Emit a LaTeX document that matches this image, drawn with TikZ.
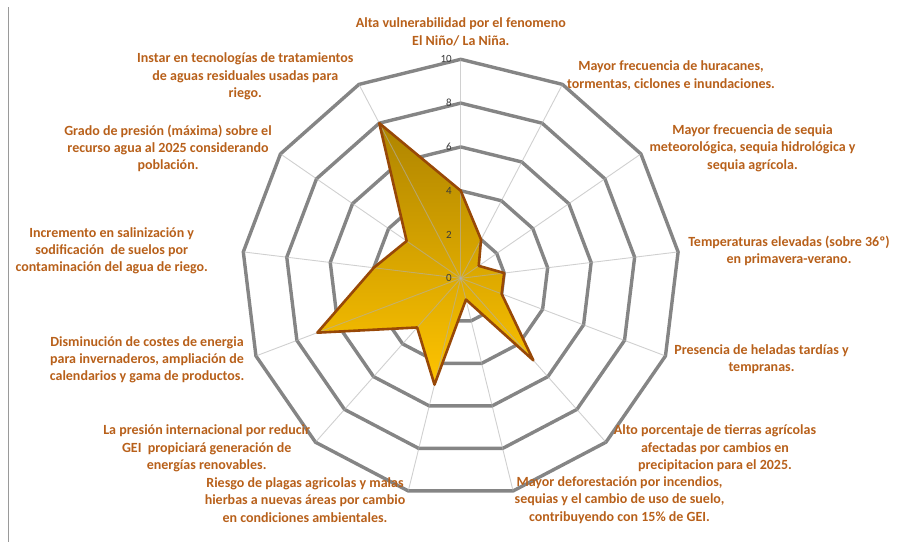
\documentclass[tikz,border=0pt]{standalone}
\usepackage{fontspec}
\setmainfont{Carlito}
\usepackage{xcolor}
\usetikzlibrary{calc}
\definecolor{ringgray}{HTML}{858585}
\definecolor{spokegray}{HTML}{B0B0B0}
\definecolor{framegray}{HTML}{9A9A9A}
\definecolor{labeltext}{HTML}{B8601A}
\definecolor{seriesedge}{HTML}{984807}
\definecolor{goldtop}{HTML}{AE8400}
\definecolor{goldbottom}{HTML}{FFC400}
\definecolor{ticktext}{HTML}{3A3A3A}
\tikzset{
    % Category label style
    axis label/.style={
        align=center,
        font=\fontsize{14}{17.4}\selectfont\bfseries,
        text=labeltext,
        inner sep=0pt
    },
    % Tick label style
    tick label/.style={
        anchor=east,
        font=\fontsize{11}{12}\selectfont,
        text=ticktext,
        inner sep=0pt
    },
    % Grid styles
    ring/.style={
        draw=ringgray,
        line width=3.4pt,
        line join=round
    },
    spoke/.style={
        draw=spokegray,
        line width=0.9pt,
        opacity=0.6
    },
    % Series styles
    series fill/.style={
        top color=goldtop,
        bottom color=goldbottom
    },
    series edge/.style={
        draw=seriesedge,
        line width=2.6pt,
        line join=round
    }
}

\begin{document}
\begin{tikzpicture}[x=1pt, y=-1pt]

        % Canvas
        \useasboundingbox (0,0) rectangle (899,542);
        \draw[framegray, line width=1.2pt] (8.5,7) -- (8.5,542);

        % Chart centre
        \coordinate (c) at (460.7,278.3);

        \begin{scope}[shift={(c)}]
            % Rings at 2, 4, ..., 10
            \foreach \r in {2,4,...,10} {
                \pgfmathsetmacro{\rr}{\r*21.9}
                \draw[ring] (-90:\rr) \foreach \k in {1,...,12} { -- (-90+\k*360/13:\rr) } -- cycle;
            }

            % Series points
            \foreach \v [count=\k from 0] in {4,2,1,2,2,5,1,5,3,7,4,3,8} {
                \pgfmathsetmacro{\rr}{\v*21.9}
                \coordinate (p\k) at (-90+\k*360/13:\rr);
            }
            \path[series fill] (p0) \foreach \k in {1,...,12} { -- (p\k) } -- cycle;

            % Spokes
            \foreach \k in {0,...,12} {
                \draw[spoke] (0,0) -- (-90+\k*360/13:219);
            }

            \draw[series edge] (p0) \foreach \k in {1,...,12} { -- (p\k) } -- cycle;
        \end{scope}

        % Tick labels
        \foreach \t in {0,2,...,10} {
            \node[tick label] (tick\t) at (452,278.3-\t*21.9) {\t};
        }

        % Category labels, clockwise from the top
        \node[axis label] (vulnerab) at (460.8,32) {Alta vulnerabilidad por el fenomeno\\El Niño/ La Niña.};
        \node[axis label] (huracan) at (671,75.5) {Mayor frecuencia de huracanes,\\tormentas, ciclones e inundaciones.};
        \node[axis label] (sequia) at (752.5,148) {Mayor frecuencia de sequia\\meteorológica, sequia hidrológica y\\sequia agrícola.};
        \node[axis label] (temper) at (789,251) {Temperaturas elevadas (sobre 36º)\\en primavera-verano.};
        \node[axis label] (heladas) at (761.5,359) {Presencia de heladas tardías y\\tempranas.};
        \node[axis label] (tierras) at (715,448.3) {Alto porcentaje de tierras agrícolas\\afectadas por cambios en\\precipitacion para el 2025.};
        \node[axis label] (deforest) at (619.5,500) {Mayor deforestación por incendios,\\sequias y el cambio de uso de suelo,\\contribuyendo con 15\% de GEI.};
        \node[axis label] (plagas) at (305,500) {Riesgo de plagas agricolas y malas\\hierbas a nuevas áreas por cambio\\en condiciones ambientales.};
        \node[axis label] (presion) at (206.7,448.3) {La presión internacional por reducir\\GEI\ \ propiciará generación de\\energías renovables.};
        \node[axis label] (costes) at (147,359.7) {Disminución de costes de energia\\para invernaderos, ampliación de\\calendarios y gama de productos.};
        \node[axis label] (salin) at (111.7,250.8) {Incremento en salinización y\\sodificación\ \ de suelos por\\contaminación del agua de riego.};
        \node[axis label] (agua) at (168,148.3) {Grado de presión (máxima) sobre el\\recurso agua al 2025 considerando\\población.};
        \node[axis label] (residual) at (245.3,76.5) {Instar en tecnologías de tratamientos\\de aguas residuales usadas para\\riego.};

\end{tikzpicture}
\end{document}
